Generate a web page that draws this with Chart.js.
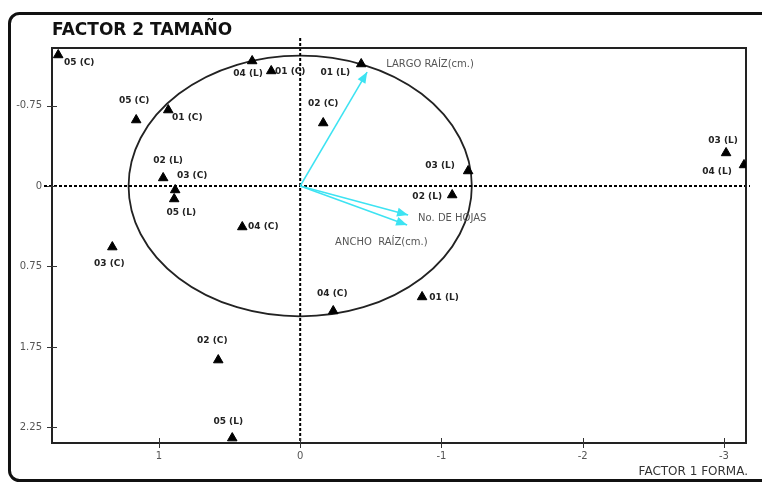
<!DOCTYPE html>
<html>
<head>
<meta charset="utf-8">
<script src="https://cdn.jsdelivr.net/npm/chart.js@4"></script>
<style>
  body { margin: 0; background: #fff; }
</style>
</head>
<body>
<canvas id="chart" width="762" height="482"></canvas>
<script>
// datos (factor 1 = forma, factor 2 = tamaño)
const pointNames = ['05 (C)', '04 (L)', '01 (C)', '01 (L)', '05 (C)', '01 (C)', '02 (C)', '02 (L)', '03 (C)', '05 (L)',
                    '04 (C)', '03 (C)', '04 (C)', '01 (L)', '03 (L)', '02 (L)', '03 (L)', '04 (L)', '02 (C)', '05 (L)'];
const factor1 = [1.713, 0.340, 0.205, -0.432, 1.161, 0.934, -0.163, 0.970, 0.885, 0.892,
                 0.410, 1.330, -0.234, -0.863, -1.189, -1.076, -3.015, -3.142, 0.580, 0.481];
const factor2 = [-1.221, -1.165, -1.072, -1.137, -0.615, -0.708, -0.587, -0.075, 0.037, 0.121,
                 0.382, 0.569, 1.165, 1.034, -0.140, 0.084, -0.308, -0.196, 1.622, 2.349];

const vectorNames = ['LARGO RAÍZ(cm.)', 'No. DE HOJAS', 'ANCHO  RAÍZ(cm.)'];
const vectorX = [-0.474, -0.764, -0.757];
const vectorY = [-1.062, 0.270, 0.363];

const circleRadius = 1.215;

const xTicks = [1, 0, -1, -2, -3];
const yTicks = [-0.75, 0, 0.75, 1.5, 2.25];
const yTickLabels = ['-0.75', '0', '0.75', '1.75', '2.25'];

// donde va cada etiqueta respecto a su triángulo (px)
const labelOffsets = [[21, 8], [-4, 13], [19, 1], [-26, 9], [-2, -19], [19, 8], [0, -19], [5, -17], [17, -14], [7, 14],
                      [21, 0], [-3, 17], [-1, -17], [22, 1], [-28, -5], [-25, 2], [-3, -12], [-27, 7], [-6, -19], [-4, -16]];
const vectorLabelOffsets = [[19, -8], [10, 3], [-72, 17]];

const cyan = '#3de3f2';

const overlay = {
    id: 'overlay',
    beforeDraw(chart) {
        const ctx = chart.ctx;
        ctx.save();
        ctx.fillStyle = '#fff';
        ctx.fillRect(0, 0, chart.width, chart.height);
        // marco redondeado
        ctx.strokeStyle = '#111';
        ctx.lineWidth = 3;
        ctx.beginPath();
        ctx.roundRect(9.5, 13.5, 780, 467, 10);
        ctx.stroke();
        // titulos
        ctx.fillStyle = '#111';
        ctx.font = 'bold 17px "DejaVu Sans"';
        ctx.textBaseline = 'middle';
        ctx.fillText('FACTOR 2 TAMAÑO', 52, 31);
        ctx.fillStyle = '#333';
        ctx.font = '12px "DejaVu Sans"';
        ctx.textAlign = 'right';
        ctx.fillText('FACTOR 1 FORMA.', 748, 472);
        ctx.restore();
    },
    beforeDatasetsDraw(chart) {
        const ctx = chart.ctx;
        const x = chart.scales.x, y = chart.scales.y;
        const a = chart.chartArea;
        const cx = x.getPixelForValue(0), cy = y.getPixelForValue(0);
        ctx.save();
        // circulo de correlacion
        ctx.strokeStyle = '#222';
        ctx.lineWidth = 1.8;
        ctx.beginPath();
        ctx.ellipse(cx, cy, Math.abs(x.getPixelForValue(circleRadius) - cx), Math.abs(y.getPixelForValue(circleRadius) - cy), 0, 0, Math.PI * 2);
        ctx.stroke();
        // ejes punteados
        ctx.strokeStyle = '#000';
        ctx.lineWidth = 2;
        ctx.setLineDash([3, 2]);
        ctx.beginPath();
        ctx.moveTo(cx, a.top - 10);
        ctx.lineTo(cx, a.bottom);
        ctx.moveTo(a.left - 8, cy);
        ctx.lineTo(a.right + 4, cy);
        ctx.stroke();
        ctx.setLineDash([]);
        // caja
        ctx.lineWidth = 2;
        ctx.strokeStyle = '#222';
        ctx.strokeRect(a.left, a.top, a.right - a.left, a.bottom - a.top);
        // marcas de los ejes
        ctx.lineWidth = 1;
        ctx.strokeStyle = '#333';
        ctx.beginPath();
        x.ticks.forEach(t => {
            const px = Math.round(x.getPixelForValue(t.value)) + 0.5;
            ctx.moveTo(px, a.bottom - 5);
            ctx.lineTo(px, a.bottom + 5);
        });
        y.ticks.forEach(t => {
            const py = Math.round(y.getPixelForValue(t.value)) + 0.5;
            ctx.moveTo(a.left - 5, py);
            ctx.lineTo(a.left + 5, py);
        });
        ctx.stroke();
        ctx.restore();
    },
    afterDatasetsDraw(chart) {
        const ctx = chart.ctx;
        ctx.save();
        // puntas de flecha
        const x = chart.scales.x, y = chart.scales.y;
        const ox = x.getPixelForValue(0), oy = y.getPixelForValue(0);
        ctx.font = '10px "DejaVu Sans"';
        ctx.textBaseline = 'middle';
        vectorX.forEach((vx, i) => {
            const tx = x.getPixelForValue(vx), ty = y.getPixelForValue(vectorY[i]);
            const ang = Math.atan2(ty - oy, tx - ox);
            ctx.fillStyle = cyan;
            ctx.beginPath();
            ctx.moveTo(tx, ty);
            ctx.lineTo(tx - 11 * Math.cos(ang) + 4.5 * Math.sin(ang), ty - 11 * Math.sin(ang) - 4.5 * Math.cos(ang));
            ctx.lineTo(tx - 11 * Math.cos(ang) - 4.5 * Math.sin(ang), ty - 11 * Math.sin(ang) + 4.5 * Math.cos(ang));
            ctx.closePath();
            ctx.fill();
            ctx.fillStyle = '#555';
            ctx.textAlign = 'left';
            ctx.fillText(vectorNames[i], tx + vectorLabelOffsets[i][0], ty + vectorLabelOffsets[i][1]);
        });
        // etiquetas de los puntos
        const meta = chart.getDatasetMeta(0);
        ctx.fillStyle = '#222';
        ctx.font = 'bold 9px "DejaVu Sans"';
        ctx.textAlign = 'center';
        meta.data.forEach((el, i) => {
            ctx.fillText(pointNames[i], el.x + labelOffsets[i][0], el.y + labelOffsets[i][1]);
        });
        ctx.restore();
    }
};

const pointData = factor1.map((v, i) => ({ x: v, y: factor2[i] }));
const vectorSets = vectorX.map((v, i) => ({
    type: 'line',
    data: [{ x: 0, y: 0 }, { x: v, y: vectorY[i] }],
    borderColor: cyan,
    borderWidth: 1.5,
    pointRadius: 0,
    showLine: true,
    fill: false
}));

new Chart(document.getElementById('chart'), {
    type: 'scatter',
    data: {
        datasets: [{
            data: pointData,
            pointStyle: 'triangle',
            pointRadius: 5.5,
            backgroundColor: '#000',
            borderColor: '#000',
            borderWidth: 1
        }, ...vectorSets]
    },
    options: {
        responsive: false,
        animation: false,
        layout: { padding: { top: 48, right: 16, left: 0, bottom: 0 } },
        plugins: {
            legend: { display: false },
            tooltip: { enabled: false }
        },
        scales: {
            x: {
                type: 'linear',
                reverse: true,
                min: -3.156,
                max: 1.757,
                afterFit: s => { s.height = 39; },
                afterBuildTicks: s => { s.ticks = xTicks.map(v => ({ value: v })); },
                grid: { display: false, drawTicks: false },
                border: { display: false },
                ticks: {
                    padding: 7,
                    color: '#555',
                    font: { family: 'DejaVu Sans', size: 10 },
                    callback: v => String(v)
                }
            },
            y: {
                type: 'linear',
                reverse: true,
                min: -1.286,
                max: 2.395,
                afterFit: s => { s.width = 52; },
                afterBuildTicks: s => { s.ticks = yTicks.map(v => ({ value: v })); },
                grid: { display: false, drawTicks: false },
                border: { display: false },
                ticks: {
                    padding: 10,
                    color: '#555',
                    font: { family: 'DejaVu Sans', size: 10 },
                    callback: (v, i) => yTickLabels[i]
                }
            }
        }
    },
    plugins: [overlay]
});
</script>
</body>
</html>
